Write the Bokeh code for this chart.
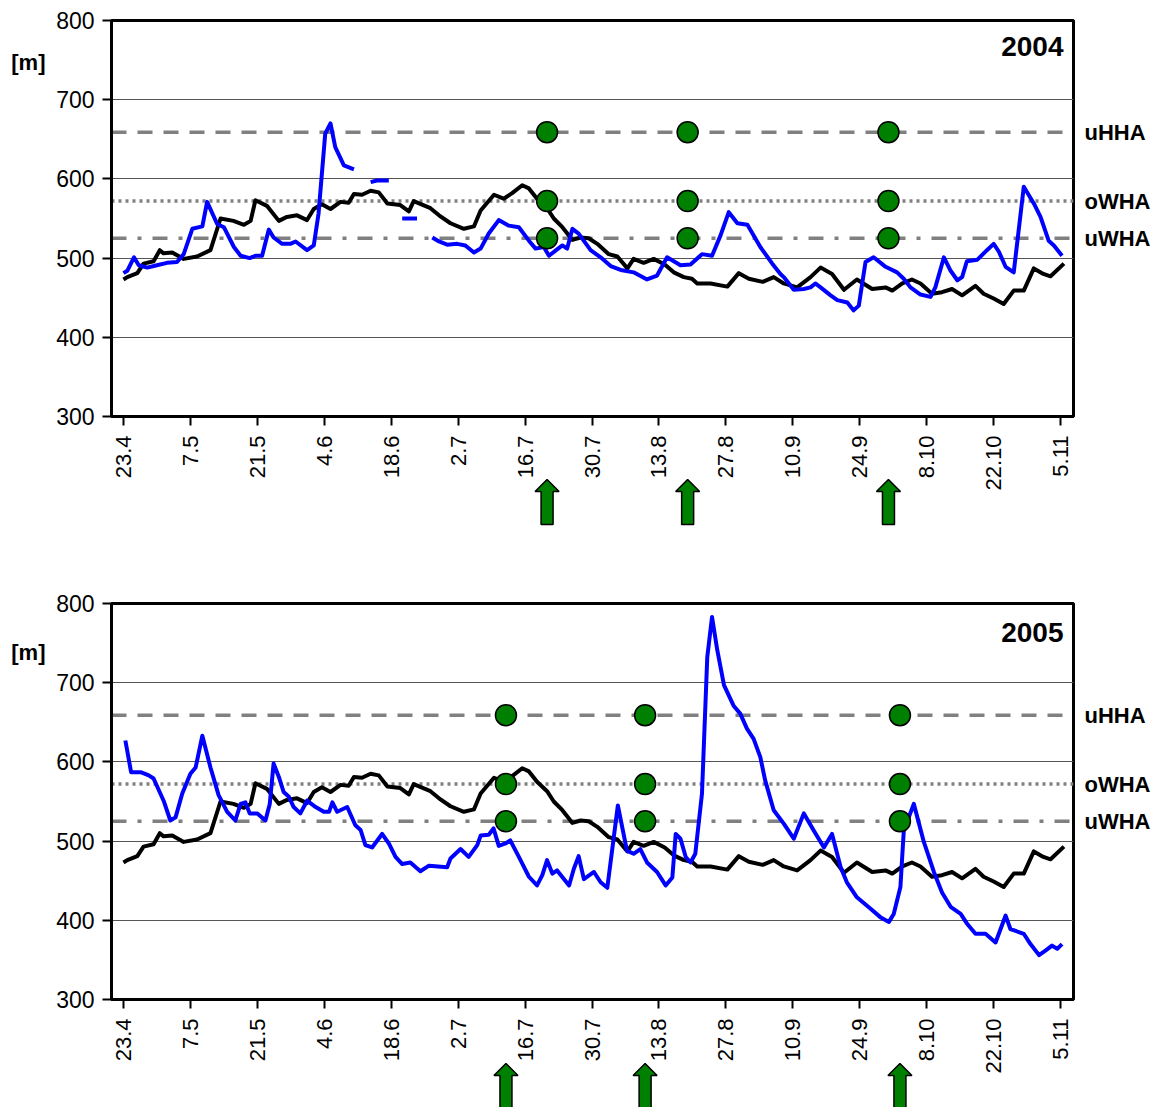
import numpy as np
from bokeh.plotting import figure
from bokeh.layouts import column
from bokeh.models import FixedTicker, LinearAxis, Span, Label, Range1d
from bokeh.embed import file_html
from bokeh.resources import INLINE

nan = np.nan

# x axis: days counted from 23 April, one tick every two weeks
tick_days = [0, 14, 28, 42, 56, 70, 84, 98, 112, 126, 140, 154, 168, 182, 196]
tick_labels = ["23.4", "7.5", "21.5", "4.6", "18.6", "2.7", "16.7", "30.7",
               "13.8", "27.8", "10.9", "24.9", "8.10", "22.10", "5.11"]
y_ticks = [300, 400, 500, 600, 700, 800]

# reference levels [m]
level_names = ["uHHA", "oWHA", "uWHA"]
level_values = [659, 572, 525]

# long-term mean snow line (black)
mean_days = [0, 0.8, 2.9, 4.2, 6.3, 7.6, 8.4, 10.2, 12.6, 15.4, 18.2, 20.3, 23, 25.2,
             26.6, 27.6, 30, 32.5, 34.2, 36.3, 38.4, 39.8, 41.5, 43.3, 45.4, 47.1, 48.2,
             49.9, 51.7, 53.4, 55.2, 57.9, 59.7, 60.7, 64.2, 66, 68.4, 71.2, 73.3, 74.7,
             77.5, 79.5, 81.3, 83.4, 84.8, 86.5, 88.6, 90, 91.8, 93.9, 95.6, 97.3, 99.1,
             101.5, 103.3, 105.4, 106.7, 108.8, 110.9, 113.2, 115.1, 117.2, 118.9, 120,
             122.8, 126.3, 128.7, 130.8, 133.7, 136, 138.1, 140.9, 143.7, 145.8, 148.2,
             150.7, 153.4, 156.6, 159.4, 160.8, 162.9, 164.9, 166.7, 169.1, 171.2, 173.3,
             175.4, 178.2, 179.9, 182, 184.1, 186.2, 188.3, 190.4, 192.4, 193.9, 196.7]
mean_level = [473, 476, 481, 493, 496, 510, 506, 507, 499, 502, 510, 550, 547, 542,
              547, 573, 566, 547, 552, 554, 548, 562, 568, 562, 571, 570, 581,
              580, 585, 583, 569, 567, 559, 572, 563, 554, 544, 537, 540, 560,
              580, 575, 582, 592, 588, 575, 563, 550, 539, 523, 526, 525, 518,
              505, 502, 487, 499, 494, 499, 492, 482, 476, 474, 468,
              468, 464, 481, 474, 470, 476, 468, 463, 476, 488, 480,
              460, 473, 461, 463, 459, 468, 473, 468, 455, 457, 461,
              453, 465, 455, 449, 442, 459, 459, 487, 480, 477, 493]

# 2004 (blue); NaN marks missing observations
days_2004 = [0, 0.8, 2.2, 3.2, 5, 7, 9.1, 11.2, 12.6, 14.4, 16.5, 17.5, 19.6, 21, 23.1,
             24.5, 26.4, 27.6, 29, 30.4, 31.4, 33.2, 34.9, 36, 38.4, 39.8, 40.8, 42.2,
             43.3, 44.3, 46.1, 48.2, 50, 51.7, 53, 55.5, 57, 58.3, 61.4, 63, 64.6, 66,
             67.7, 69.8, 71.5, 73.3, 74.7, 76.4, 78.5, 80.6, 82.7, 84.8, 86.2, 87.9, 89,
             90.7, 91.8, 92.8, 93.9, 95.2, 97.7, 99.8, 101.9, 104, 106.7, 109.5, 111.6,
             113.7, 116.5, 118.6, 121, 123.1, 124.9, 126.6, 128.4, 130.5, 133.2, 135.7,
             137.4, 138.1, 140.2, 142.3, 143.7, 144.7, 145.8, 147.9, 149.3, 151.4, 152.7,
             153.8, 155.2, 156.9, 159.4, 161.8, 163.2, 164.6, 166.7, 168.8, 169.8, 171.6,
             173, 174.4, 175.4, 176.4, 178.6, 180.6, 182, 183.1, 184.5, 186.2, 188.3,
             190.4, 191.8, 193.5, 194.6, 196.3]
level_2004 = [481, 484, 501, 491, 488, 491, 494, 495, 505, 537, 540, 571, 543, 539, 514,
              503, 500, 503, 503, 536, 526, 518, 518, 521, 510, 516, 556, 657,
              670, 640, 617, 612, nan, 596, 598, 598, nan, 550, 550, nan, 526, 521,
              517, 518, 516, 507, 512, 531, 548, 541, 539, 522, 512, 514, 503,
              511, 516, 512, 537, 531, 510, 501, 490, 485, 482, 473, 478,
              501, 491, 492, 505, 503, 529, 558, 544, 542, 514, 493,
              480, 476, 460, 461, 463, 468, 463, 453, 447, 444, 434,
              440, 495, 501, 489, 482, 474, 463, 454, 451, 463, 501,
              484, 472, 476, 496, 498, 510, 518, 508, 489, 482, 590,
              569, 552, 522, 516, 503]

# 2005 (blue)
days_2005 = [0.4, 1.6, 3.6, 5.3, 6.3, 8.4, 9.8, 10.9, 12.3, 14, 15.1, 16.5, 18.2, 19.9,
             21.7, 23.4, 24.5, 25.5, 26.4, 28, 29.7, 30.6, 31.4, 32.5, 33.5, 34.6, 35.6,
             37, 38.4, 40.2, 41.9, 43, 43.7, 44.7, 46.8, 48.5, 49.6, 50.6, 52, 54.1, 55.5,
             56.9, 58.3, 60, 62.1, 63.9, 67.7, 68.4, 70.5, 72.2, 74, 74.7, 76.4, 77.4,
             78.5, 79.9, 80.9, 82.7, 84.8, 86.5, 87.6, 88.6, 89.7, 90.7, 93.2, 94.2, 95.2,
             96.3, 98.4, 99.8, 101.2, 103.4, 105.3, 106.7, 108.1, 109.5, 111.6, 113.4,
             114.8, 115.5, 116.5, 117.6, 118.6, 119.6, 121, 122.1, 123.1, 124.2, 125.6,
             127.6, 129, 130.4, 131.8, 133.2, 134.2, 136, 138.1, 140.2, 142.3, 144.4,
             146.5, 148.2, 150, 151.3, 153.4, 156.2, 158.3, 160.1, 161.1, 162.5, 163.2,
             165.3, 167.4, 169.5, 171.2, 173, 175.1, 176.4, 178.2, 180.3, 182.4, 184.5,
             185.5, 188.3, 189.7, 191.5, 192.9, 194.2, 195.3, 196.3]
level_2005 = [627, 587, 587, 583, 579, 551, 526, 530, 560, 585, 593, 633, 593, 558,
              537, 526, 547, 549, 535, 535, 526, 547, 598, 581, 562, 556, 543,
              535, 551, 543, 537, 537, 549, 537, 543, 520, 514, 495, 492, 509, 497,
              480, 471, 473, 462, 469, 467, 478, 490, 480, 495, 507, 508, 516,
              494, 497, 501, 480, 455, 444, 457, 476, 459, 463, 444, 465, 481,
              452, 461, 448, 441, 545, 488, 484, 490, 473, 461, 444,
              454, 509, 503, 480, 473, 484, 560, 732, 783, 741, 697,
              671, 661, 642, 629, 606, 577, 539, 522, 503, 535, 513,
              492, 509, 467, 448, 429, 415, 404, 398, 408, 442, 513,
              547, 499, 461, 435, 417, 408, 396, 383, 383, 372, 406,
              389, 383, 370, 356, 362, 368, 364, 370]

# observation dates (green markers / arrows)
visits_2004 = [88.6, 118.0, 160.0]
visits_2005 = [80.0, 109.1, 162.4]

FONT = "Liberation Sans"
W = 1162
LEFT, RIGHT = 111, 89
FRAME_H = 396
X_START, X_END = -2.5, 198.7
PX_PER_DAY = (W - LEFT - RIGHT) / (X_END - X_START)
DASHES = ["15 11", "3 4", "15 11 4 11"]


def year_panel(year, days, values, visits, top_border, m_at, year_at):
    xr = Range1d(X_START, X_END)
    p = figure(width=W, height=top_border + FRAME_H + 100, x_range=xr,
               y_range=Range1d(300, 800), title=None,
               output_backend="svg", toolbar_location=None,
               min_border_left=LEFT, min_border_right=RIGHT,
               min_border_top=top_border, min_border_bottom=100)
    p.outline_line_color = "black"
    p.outline_line_width = 3
    p.background_fill_color = "white"

    xa = p.xaxis[0]
    xa.ticker = FixedTicker(ticks=tick_days)
    xa.major_label_overrides = dict(zip(tick_days, tick_labels))
    xa.major_label_orientation = np.pi / 2
    xa.major_label_text_font = FONT
    xa.major_label_text_font_size = "22px"
    xa.major_label_text_color = "black"
    xa.major_label_standoff = 10

    ya = p.yaxis[0]
    ya.ticker = FixedTicker(ticks=y_ticks)
    ya.major_label_text_font = FONT
    ya.major_label_text_font_size = "23px"
    ya.major_label_text_color = "black"
    ya.major_label_standoff = 8

    for ax in (xa, ya):
        ax.axis_line_width = 3
        ax.axis_line_color = "black"
        ax.major_tick_line_width = 2
        ax.major_tick_line_color = "black"
        ax.major_tick_out = 9
        ax.major_tick_in = 0
        ax.minor_tick_line_color = None

    p.xgrid.visible = False
    p.ygrid.ticker = FixedTicker(ticks=y_ticks)
    p.ygrid.grid_line_color = "#555555"
    p.ygrid.grid_line_width = 1

    # unit label at the left, level names at the right
    unit_axis = LinearAxis(ticker=FixedTicker(ticks=[m_at]),
                           major_label_overrides={m_at: "[m]"},
                           axis_line_color=None, major_tick_line_color=None,
                           minor_tick_line_color=None, major_tick_in=0, major_tick_out=0,
                           major_label_standoff=8, major_label_text_font=FONT,
                           major_label_text_font_size="22px",
                           major_label_text_font_style="bold",
                           major_label_text_color="black")
    p.add_layout(unit_axis, "left")

    level_axis = LinearAxis(ticker=FixedTicker(ticks=level_values),
                            major_label_overrides=dict(zip(level_values, level_names)),
                            axis_line_color=None, major_tick_line_color=None,
                            minor_tick_line_color=None, major_tick_in=0, major_tick_out=0,
                            major_label_standoff=11, major_label_text_font=FONT,
                            major_label_text_font_size="22px",
                            major_label_text_font_style="bold",
                            major_label_text_color="black")
    p.add_layout(level_axis, "right")

    for v, dash in zip(level_values, DASHES):
        p.add_layout(Span(location=v, dimension="width", line_color="#808080",
                          line_width=3.5, line_dash=dash, level="underlay"))

    p.line(np.array(mean_days, dtype=float), np.array(mean_level, dtype=float),
           line_color="black", line_width=4, line_join="round")
    p.line(np.array(days, dtype=float), np.array(values, dtype=float),
           line_color="#0000ff", line_width=4, line_join="round")

    mx = [d for d in visits for _ in level_values]
    my = level_values * len(visits)
    p.scatter(mx, my, size=21, fill_color="#008000", line_color="black", line_width=1.5)

    p.add_layout(Label(x=196.6, y=year_at, text=str(year), text_align="right",
                       text_baseline="middle", text_font=FONT, text_font_size="28px",
                       text_font_style="bold", text_color="black"))
    return p, xr


def arrow_strip(xr, visits, height, y_low, shift):
    a = figure(width=W, height=height, x_range=xr, y_range=Range1d(y_low, 50),
               title=None, output_backend="svg", toolbar_location=None,
               x_axis_location=None, y_axis_location=None,
               min_border_left=LEFT, min_border_right=RIGHT,
               min_border_top=0, min_border_bottom=0,
               background_fill_color=None, border_fill_color=None,
               outline_line_color=None)
    a.grid.visible = False
    head = 12 / PX_PER_DAY
    shaft = 6 / PX_PER_DAY
    xs = [[d - shaft, d - shaft, d - head, d, d + head, d + shaft, d + shaft] for d in visits]
    ys = [[2, 35, 35, 47, 35, 35, 2] for _ in visits]
    a.patches(xs, ys, fill_color="#008000", line_color="black", line_width=1.5)
    a.margin = (shift, 0, 0, 0)
    return a


p1, xr1 = year_panel(2004, days_2004, level_2004, visits_2004, 20, 747, 767)
a1 = arrow_strip(xr1, visits_2004, 50, 0, -40)
p2, xr2 = year_panel(2005, days_2005, level_2005, visits_2005, 77, 738, 763)
a2 = arrow_strip(xr2, visits_2005, 47, 3, -39)

layout = column(p1, a1, p2, a2, spacing=0)
open("out.html", "w").write(file_html(layout, INLINE))
